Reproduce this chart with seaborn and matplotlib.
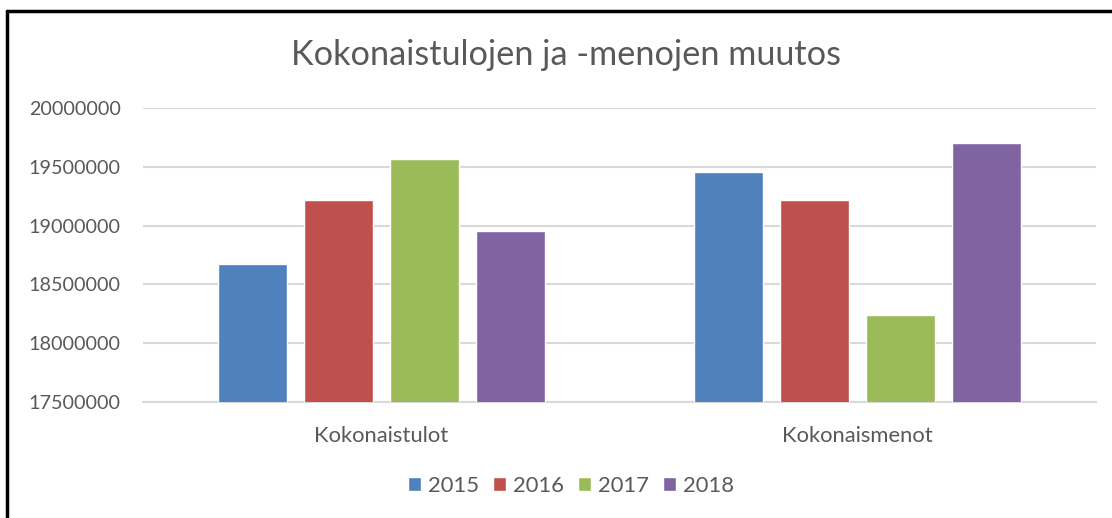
import pandas as pd
import seaborn as sns
import matplotlib.pyplot as plt
from matplotlib.lines import Line2D
from matplotlib.patches import Patch

# data
categories = ["Kokonaistulot", "Kokonaismenot"]
years = ["2015", "2016", "2017", "2018"]
v2015 = [18670000, 19460000]
v2016 = [19215000, 19215000]
v2017 = [19570000, 18240000]
v2018 = [18950000, 19700000]
colors = ["#4F81BD", "#C0504D", "#9BBB59", "#8064A2"]

rows = []
for year, vals in zip(years, [v2015, v2016, v2017, v2018]):
    for cat, v in zip(categories, vals):
        rows.append({"category": cat, "year": year, "value": v})
df = pd.DataFrame(rows)

sns.set_style("white")
plt.rcParams["font.family"] = ["Lato", "DejaVu Sans"]
text_color = "#595959"

fig = plt.figure(figsize=(11.12, 5.18), dpi=100)
ax = fig.add_axes([143 / 1112, 1 - 402 / 518, (1096 - 143) / 1112, (402 - 108) / 518])

sns.barplot(
    data=df,
    x="category",
    y="value",
    hue="year",
    palette=colors,
    width=0.722,
    gap=0.2,
    saturation=1,
    legend=False,
    ax=ax,
    zorder=3,
)

ax.set_ylim(17500000, 20000000)
ax.set_yticks(range(17500000, 20000001, 500000))
ax.set_yticklabels([str(t) for t in range(17500000, 20000001, 500000)])
ax.grid(axis="y", color="#D9D9D9", linewidth=1.5, zorder=0)
ax.set_axisbelow(True)
for s in ["top", "right", "left"]:
    ax.spines[s].set_visible(False)
ax.spines["bottom"].set_color("#D9D9D9")
ax.spines["bottom"].set_linewidth(1.5)
ax.tick_params(axis="y", length=0, pad=16, labelsize=14.2, labelcolor=text_color)
ax.tick_params(axis="x", length=0, pad=17, labelsize=15.8, labelcolor=text_color)
ax.set_xlabel("")
ax.set_ylabel("")

fig.text(0.509, 1 - 55 / 518, "Kokonaistulojen ja -menojen muutos",
         ha="center", va="center", fontsize=24.7, color=text_color)

handles = [Patch(facecolor=c, label=y) for c, y in zip(colors, years)]
fig.legend(handles=handles, loc="center", bbox_to_anchor=(0.5135, 1 - 486 / 518),
           ncol=4, frameon=False, fontsize=15.8, labelcolor=text_color,
           handlelength=0.6, handleheight=0.6, handletextpad=0.3, columnspacing=0.65)

# chart border (top and left edges visible)
fig.add_artist(Line2D([7 / 1112, 1], [1 - 10.5 / 518, 1 - 10.5 / 518], color="black", linewidth=2.5))
fig.add_artist(Line2D([7 / 1112, 7 / 1112], [0, 1 - 10.5 / 518], color="black", linewidth=2.5))

fig.savefig("out.png", dpi=100)
